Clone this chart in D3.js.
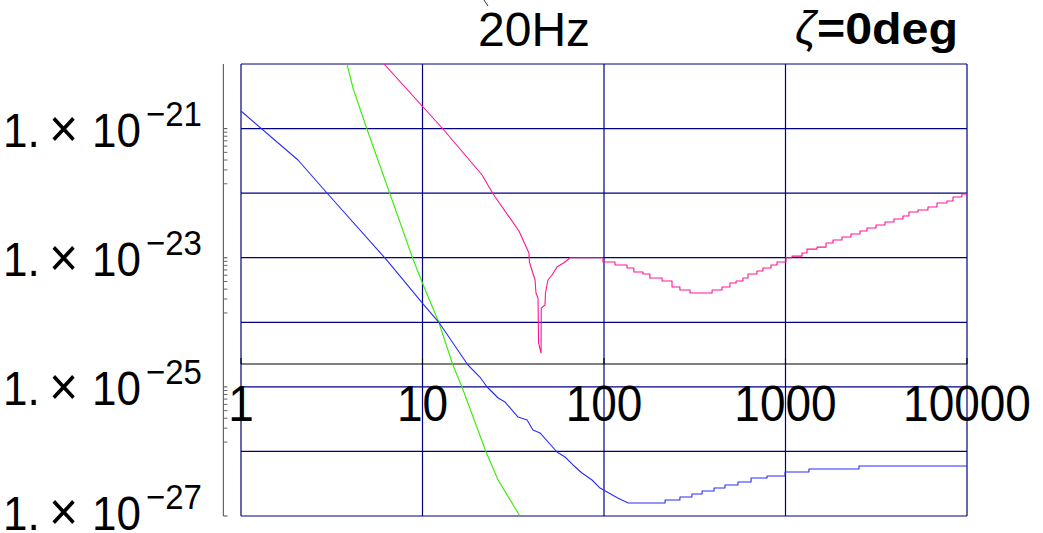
<!DOCTYPE html>
<html>
<head>
<meta charset="utf-8">
<script src="https://cdn.jsdelivr.net/npm/d3@7"></script>
<style>
  html, body { margin: 0; padding: 0; background: #fff; }
  svg { display: block; }
  text { font-family: "Liberation Sans", Arial, sans-serif; fill: #000; }
</style>
</head>
<body>
<svg id="chart" width="1043" height="533"></svg>
<script>
// ---- axes / ticks ----
const freqTicks = [1, 10, 100, 1000, 10000];
const freqTickLabels = ["1", "10", "100", "1000", "10000"];
const ampGrid = [1e-20, 1e-21, 1e-22, 1e-23, 1e-24, 1e-25, 1e-26, 1e-27];
const ampLabelExps = [-21, -23, -25, -27];
const minorMultipliers = [2, 3, 4, 5, 6, 7, 8, 9];
const xAxisLevel = 2.26e-25;   // where the frequency axis line crosses
const yAxisFreq = 0.8;         // where the amplitude axis line sits
const titleText = "20Hz";
const angleSymbol = "\u03B6";
const angleText = "=0deg";

// ---- blue curve: smooth part, then quantised tail ----
const blueFreq = [1, 2.06, 3.01, 6.29, 10.2, 12.3, 17.8, 20.7, 22.7, 26.1, 28.5, 33.6, 37.7,
                  40.6, 44.4, 55.1, 61.0, 67.5, 75.6, 85.9, 95.1, 104, 119, 136];
const blueVal  = [1.87e-21, 3.26e-22, 9.7e-23, 9.5e-24, 1.85e-24, 1.0e-24, 2.18e-25, 1.42e-25,
                  9.95e-26, 6.72e-26, 5.82e-26, 3.41e-26, 3.07e-26, 2.15e-26, 1.93e-26, 9.8e-27,
                  8.2e-27, 6.17e-27, 4.63e-27, 3.61e-27, 2.71e-27, 2.35e-27, 1.90e-27, 1.59e-27];
const blueStepFreq = [136, 217, 262, 305, 347, 404, 464, 547, 646, 791, 994, 1346, 2540, 10000];
const blueStepVal  = [1.59e-27, 1.77e-27, 1.97e-27, 2.19e-27, 2.44e-27, 2.71e-27, 3.02e-27,
                      3.36e-27, 3.88e-27, 4.16e-27, 4.80e-27, 5.34e-27, 5.94e-27, 5.94e-27];

// ---- green curve ----
const greenFreq = [3.84, 4.14, 4.94, 6.62, 8.86, 10.2, 12.3, 14.7, 16.5, 22.4, 26.1, 34.4];
const greenVal  = [1e-20, 4.25e-21, 9.85e-22, 9.7e-23, 9.55e-24, 3.52e-24, 1.0e-24, 2.18e-25,
                   9.95e-26, 9.8e-27, 3.61e-27, 1e-27];

// ---- magenta curve: smooth part with the notch, then quantised tail ----
const pinkFreq = [6.14, 12.97, 21.3, 24.5, 34.0, 38.6, 38.8, 41.7, 42.2, 43.3, 43.6, 45.0, 45.1,
                  47.3, 47.6, 49.1, 51.7, 55.1, 61.0, 65.0, 92.7];
const pinkVal  = [1e-20, 9.85e-22, 1.91e-22, 9.7e-23, 2.59e-23, 1.18e-23, 8.59e-24, 4.52e-24,
                  2.84e-24, 2.38e-24, 4.78e-25, 3.34e-25, 1.66e-24, 1.85e-24, 2.84e-24, 4.52e-24,
                  5.40e-24, 7.18e-24, 8.59e-24, 1.0e-23, 1.0e-23];
const pinkStepFreq = [92.7, 98.7, 115, 134, 146, 164, 179, 209, 237, 262, 298, 394, 447, 494, 534,
                      583, 621, 696, 751, 832, 898, 1006, 1086, 1233, 1313, 1492, 1672, 1827, 2048,
                      2295, 2573, 2811, 3153, 3533, 3960, 4437, 4789, 5370, 6095, 6834, 7757, 8373,
                      9376, 10000];
const pinkStepVal  = [1.0e-23, 8.59e-24, 7.71e-24, 6.93e-24, 6.01e-24, 5.60e-24, 4.85e-24, 4.36e-24,
                      3.52e-24, 3.16e-24, 2.84e-24, 3.16e-24, 3.52e-24, 4.06e-24, 4.36e-24, 4.85e-24,
                      5.60e-24, 6.22e-24, 6.93e-24, 7.71e-24, 8.59e-24, 1.0e-23, 1.06e-23, 1.18e-23,
                      1.36e-23, 1.46e-23, 1.69e-23, 1.88e-23, 2.09e-23, 2.33e-23, 2.59e-23, 2.88e-23,
                      3.21e-23, 3.57e-23, 3.98e-23, 4.43e-23, 5.10e-23, 5.48e-23, 6.10e-23, 7.03e-23,
                      7.55e-23, 8.71e-23, 9.70e-23, 9.70e-23];

const colors = { blue: "#2a2aff", green: "#33ee00", pink: "#ff1493", grid: "#000080" };

// ---- layout ----
const svg = d3.select("#chart");
const x = d3.scaleLog().domain([1, 1e4]).range([241, 967]);
const y = d3.scaleLog().domain([1e-27, 1e-20]).range([516, 64]);
// spacing of the minor ticks drawn on the amplitude axis
const tickStep = d3.scaleLog().domain([1, 10]).range([79, 0]);
const stretch = 1.08;   // labels are drawn slightly taller than wide

const zip = (a, b) => a.map((v, i) => [v, b[i]]);

// grid
const grid = svg.append("g").attr("stroke", colors.grid).attr("stroke-width", 1.2).attr("fill", "none");
grid.selectAll("line.v").data(freqTicks).join("line")
  .attr("x1", d => x(d)).attr("x2", d => x(d))
  .attr("y1", y(1e-20)).attr("y2", y(1e-27));
grid.selectAll("line.h").data(ampGrid).join("line")
  .attr("x1", x(1)).attr("x2", x(1e4))
  .attr("y1", d => y(d)).attr("y2", d => y(d));

// frequency axis line with upward ticks
const xa = svg.append("g").attr("stroke", "#000").attr("stroke-width", 1.1);
xa.append("line").attr("x1", x(1)).attr("x2", x(1e4))
  .attr("y1", y(xAxisLevel)).attr("y2", y(xAxisLevel));
xa.selectAll("line.t").data(freqTicks).join("line")
  .attr("x1", d => x(d)).attr("x2", d => x(d))
  .attr("y1", y(xAxisLevel)).attr("y2", y(xAxisLevel) - 6);

// frequency tick labels
svg.append("g").selectAll("text").data(freqTicks).join("text")
  .attr("transform", d => `translate(${x(d)},421) scale(1,${stretch})`)
  .attr("text-anchor", "middle").attr("font-size", 46)
  .text((d, i) => freqTickLabels[i]);

// amplitude axis (grey line with tick marks)
const ax = x(yAxisFreq);
const ya = svg.append("g").attr("stroke", "#666").attr("stroke-width", 1.2);
ya.append("line").attr("x1", ax).attr("x2", ax).attr("y1", y(1e-20)).attr("y2", y(1e-27));
ampLabelExps.forEach(e => {
  const y0 = y(Math.pow(10, e));
  ya.append("line").attr("x1", ax).attr("x2", ax + 4).attr("y1", y0).attr("y2", y0);
  if (e > -27) {
    minorMultipliers.forEach(k => {
      const yy = y0 + tickStep(k);
      ya.append("line").attr("x1", ax).attr("x2", ax + 4).attr("y1", yy).attr("y2", yy)
        .attr("stroke-width", 1);
    });
  }
});

// amplitude labels, "1.×10^-n"
const labels = svg.append("g");
ampLabelExps.forEach(e => {
  const base = Math.min(y(Math.pow(10, e)) + 18, 530);
  const t = labels.append("text").attr("font-size", 44)
    .attr("transform", `translate(0,${base}) scale(1,${stretch})`);
  t.append("tspan").attr("x", 3).text("1.");
  t.append("tspan").attr("x", 49).attr("font-size", 50).text("\u00D7");
  t.append("tspan").attr("x", 92).text("10");
  t.append("tspan").attr("x", 146).attr("dy", -19).attr("font-size", 33)
    .text("\u2212" + Math.abs(e));
});

// curves
svg.append("clipPath").attr("id", "plotArea").append("rect")
  .attr("x", x(1)).attr("y", y(1e-20))
  .attr("width", x(1e4) - x(1)).attr("height", y(1e-27) - y(1e-20));

const lin = d3.line().x(d => x(d[0])).y(d => y(d[1]));
const step = d3.line().x(d => x(d[0])).y(d => y(d[1])).curve(d3.curveStepAfter);

const curves = svg.append("g").attr("clip-path", "url(#plotArea)")
  .attr("fill", "none").attr("stroke-width", 1.1).attr("stroke-linejoin", "round");
curves.append("path").attr("stroke", colors.green).attr("d", lin(zip(greenFreq, greenVal)));
curves.append("path").attr("stroke", colors.blue).attr("d", lin(zip(blueFreq, blueVal)));
curves.append("path").attr("stroke", colors.blue).attr("d", step(zip(blueStepFreq, blueStepVal)));
curves.append("path").attr("stroke", colors.pink).attr("d", lin(zip(pinkFreq, pinkVal)));
curves.append("path").attr("stroke", colors.pink).attr("d", step(zip(pinkStepFreq, pinkStepVal)));

// titles
svg.append("text").attr("x", 478).attr("y", 46).attr("font-size", 48).text(titleText);
svg.append("text").attr("x", 795).attr("y", 44).attr("font-size", 46)
  .attr("font-family", "'Liberation Serif', 'DejaVu Serif', serif").attr("font-style", "italic")
  .text(angleSymbol);
svg.append("text").attr("x", 817).attr("y", 44).attr("font-size", 44).attr("font-weight", "bold")
  .attr("textLength", 141).attr("lengthAdjust", "spacingAndGlyphs").text(angleText);
// small stroke above the title
svg.append("path").attr("d", "M484,0 L488,6").attr("stroke", "#333").attr("stroke-width", 1).attr("fill", "none");
</script>
</body>
</html>
